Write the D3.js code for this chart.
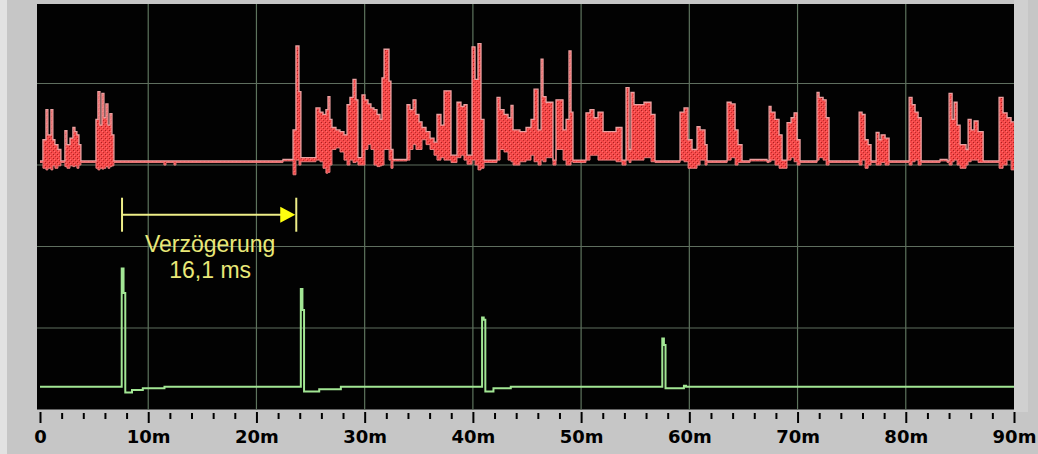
<!DOCTYPE html>
<html><head><meta charset="utf-8">
<script src="https://cdn.jsdelivr.net/npm/d3@7"></script>
<style>html,body{margin:0;padding:0;background:#c6c6c6;overflow:hidden}</style>
</head><body>
<svg id="c" width="1038" height="454"></svg>
<script>
// ---- data (time in ms, amplitude in divisions) ----
const majorTicks = [0,10,20,30,40,50,60,70,80,90];
const minorTicks = [2,4,6,8,12,14,16,18,22,24,26,28,32,34,36,38,42,44,46,48,52,54,56,58,62,64,66,68,72,74,76,78,82,84,86,88];
const tickLabels = ["0","10m","20m","30m","40m","50m","60m","70m","80m","90m"];
const gridY = [1,2,3,4];
const redOffset = 3.05;   // channel 1 zero level (div)
const greenOffset = 0.28; // channel 2 zero level (div)
// channel 1: [t, upper, lower]
const redTrace = [
[0.00,0.00,-0.02],[0.27,0.26,-0.09],[0.55,0.63,-0.11],[0.73,0.32,-0.09],[1.01,0.63,-0.11],[1.19,0.26,-0.06],[1.38,0.20,-0.09],[1.66,0.14,-0.06],[1.93,0.00,-0.02],
[2.30,0.37,-0.07],[2.49,0.20,-0.09],[2.77,0.28,-0.06],[3.04,0.41,-0.07],[3.23,0.36,-0.06],[3.41,0.32,-0.09],[3.60,0.20,-0.05],[3.78,0.00,-0.02],
[5.17,0.51,-0.09],[5.35,0.85,-0.11],[5.54,0.44,-0.09],[5.72,0.83,-0.10],[5.91,0.53,-0.09],[6.09,0.70,-0.07],[6.28,0.44,-0.09],[6.46,0.58,-0.07],[6.65,0.32,-0.06],[6.83,0.00,-0.02],
[11.45,0.00,-0.05],[11.64,0.00,-0.02],[12.38,0.00,-0.05],[12.56,0.00,-0.02],[22.45,0.02,0.00],
[23.38,0.38,-0.17],[23.65,1.41,0.01],[23.93,0.85,-0.05],[24.11,0.04,-0.01],
[25.50,0.65,0.01],[25.87,0.60,-0.01],[26.15,0.57,-0.09],[26.42,0.63,-0.15],[26.61,0.79,-0.14],[26.79,0.51,-0.05],[26.98,0.41,0.14],[27.35,0.38,0.16],[27.72,0.36,0.11],[28.09,0.32,0.01],
[28.37,0.69,-0.05],[28.64,0.78,0.01],[28.92,1.00,-0.02],[29.20,0.75,-0.01],[29.38,0.04,-0.05],[29.75,0.81,-0.05],[30.03,0.75,0.14],[30.31,0.70,0.20],[30.58,0.65,0.14],[30.86,0.63,-0.05],
[31.14,0.57,-0.07],[31.42,0.51,-0.06],[31.60,1.02,-0.05],[31.79,1.37,0.14],[32.25,0.98,0.01],[32.43,0.14,-0.09],[32.62,0.02,0.00],
[33.91,0.69,0.01],[34.19,0.63,0.14],[34.47,0.75,0.20],[34.74,0.57,0.14],[35.02,0.48,0.14],[35.30,0.41,0.26],[35.67,0.36,0.20],[36.04,0.28,0.14],[36.41,0.23,0.07],[36.68,0.57,0.01],
[37.05,0.44,0.04],[37.33,0.86,0.01],[37.98,0.07,-0.02],[38.53,0.72,0.04],[38.90,0.67,0.07],[39.18,0.69,0.01],[39.46,0.07,-0.04],[39.92,1.40,0.01],[40.20,1.00,-0.05],[40.47,1.44,-0.11],
[40.75,0.51,-0.09],[41.03,0.01,-0.02],[42.23,0.78,0.01],[42.51,0.63,0.14],[42.88,0.57,0.11],[43.25,0.53,0.01],[43.52,0.68,-0.01],[43.71,0.38,-0.05],[44.35,0.36,-0.01],[44.91,0.41,0.01],
[45.37,0.51,0.07],[45.65,0.88,-0.01],[46.02,0.38,-0.05],[46.30,1.25,0.01],[46.48,0.79,-0.01],[46.76,0.72,0.04],[47.40,0.01,-0.05],[47.68,0.75,0.14],[48.33,0.38,0.01],[48.61,0.51,-0.05],
[48.88,1.35,-0.05],[49.07,0.60,-0.01],[49.25,0.01,-0.02],[50.45,0.59,0.01],[50.82,0.63,0.07],[51.19,0.53,0.07],[51.56,0.60,0.01],[52.03,0.36,0.01],[53.23,0.41,-0.01],[53.78,0.01,-0.05],
[54.15,0.90,0.01],[54.43,0.14,-0.02],[54.61,0.84,0.01],[54.89,0.69,0.01],[55.81,0.72,0.04],[56.46,0.57,-0.01],[56.83,0.00,-0.02],
[59.14,0.60,0.01],[59.51,0.65,-0.01],[59.88,0.26,-0.09],[60.25,0.14,-0.09],[60.71,0.42,-0.05],[60.99,0.38,0.01],[61.45,0.20,-0.05],[61.64,0.00,-0.02],
[63.49,0.72,0.01],[63.86,0.70,0.04],[64.23,0.38,-0.05],[64.50,0.20,-0.02],[64.87,0.00,-0.02],[65.61,0.02,0.00],[67.18,0.00,-0.02],
[67.37,0.67,-0.01],[67.55,0.60,0.01],[67.92,0.51,-0.05],[68.29,0.32,-0.09],[68.57,0.01,-0.09],[69.03,0.47,0.01],[69.40,0.53,0.04],[69.68,0.59,-0.01],[69.96,0.26,-0.05],[70.23,0.00,-0.02],
[71.80,0.84,0.01],[71.99,0.78,0.04],[72.36,0.75,0.01],[72.64,0.53,-0.05],[72.91,0.00,-0.02],
[75.69,0.60,-0.05],[75.96,0.57,0.01],[76.24,0.26,-0.09],[76.52,0.20,-0.05],[76.79,0.00,-0.02],[77.26,0.35,-0.05],[77.53,0.26,-0.05],[77.72,0.32,-0.02],[78.09,0.28,-0.05],[78.46,0.00,-0.02],
[80.31,0.78,-0.05],[80.58,0.69,-0.01],[80.86,0.60,0.01],[81.14,0.53,-0.05],[81.42,0.00,-0.02],[83.17,0.02,0.00],[83.82,0.00,-0.02],
[84.00,0.83,-0.05],[84.28,0.51,-0.01],[84.47,0.72,0.01],[84.74,0.44,-0.05],[85.02,0.20,-0.09],[85.57,0.14,-0.05],[85.76,0.51,-0.01],[86.04,0.38,0.01],[86.31,0.49,0.01],[86.68,0.36,-0.02],[87.15,0.00,-0.02],
[88.62,0.78,-0.09],[88.99,0.59,-0.05],[89.36,0.53,0.01],[89.73,0.48,-0.11],[90.00,0.48,-0.11]
];
// channel 2: [t, value]
const greenTrace = [
[0,0],[7.55,1.45],[7.72,1.15],[7.88,-0.07],[8.5,-0.04],[9.5,-0.02],[11.5,0],
[24.1,1.20],[24.25,0.94],[24.4,-0.06],[25.8,-0.03],[27.8,0],
[40.85,0.85],[41.0,0.82],[41.15,-0.06],[41.9,-0.02],[43.5,0],
[57.5,0.59],[57.65,0.51],[57.8,-0.02],[59.5,0.01],[59.7,0],[90,0]
];
const delayStart = 7.58, delayEnd = 23.68;
const annotation = ["Verzögerung","16,1 ms"];

// ---- drawing ----
const svg = d3.select("#c");
const x = d3.scaleLinear().domain([0,90]).range([40,1014]);
const y = d3.scaleLinear().domain([0,5]).range([409.5,2]);

const defs = svg.append("defs");
const pat = defs.append("pattern").attr("id","noise").attr("patternUnits","userSpaceOnUse")
  .attr("width",4).attr("height",4);
pat.append("rect").attr("width",4).attr("height",4).attr("fill","#f44848");
pat.append("rect").attr("x",1).attr("y",2).attr("width",1).attr("height",1).attr("fill","#a82020");
pat.append("rect").attr("x",3).attr("y",0).attr("width",1).attr("height",1).attr("fill","#c02a2a");
pat.append("rect").attr("x",2).attr("y",3).attr("width",1).attr("height",1).attr("fill","#ff7070");
pat.append("rect").attr("x",0).attr("y",1).attr("width",1).attr("height",1).attr("fill","#ff6060");

svg.append("rect").attr("x",0).attr("y",0).attr("width",1038).attr("height",454).attr("fill","#c6c6c6");
svg.append("rect").attr("x",0).attr("y",0).attr("width",7).attr("height",454).attr("fill","#e2e2e2");
svg.append("rect").attr("x",1014).attr("y",0).attr("width",14).attr("height",412).attr("fill","#d0d0d0");
svg.append("rect").attr("x",37).attr("y",4).attr("width",977).attr("height",405.5).attr("fill","#020202");

const grid = svg.append("g").attr("stroke","#5d735d").attr("stroke-width",1.2);
grid.selectAll(".v").data(majorTicks.slice(1,-1)).join("line")
  .attr("x1",d=>x(d)).attr("x2",d=>x(d)).attr("y1",4).attr("y2",409.5);
grid.selectAll(".h").data(gridY).join("line").attr("stroke","#5f6e5f")
  .attr("x1",37).attr("x2",1014).attr("y1",d=>y(d)).attr("y2",d=>y(d));

const plot = svg.append("g");
plot.append("path").datum(redTrace)
  .attr("fill","url(#noise)")
  .attr("d", d3.area().curve(d3.curveStepAfter).x(d=>x(d[0]))
     .y0(d=>y(redOffset+d[2])).y1(d=>y(redOffset+d[1])));
plot.append("path").datum(redTrace)
  .attr("fill","none").attr("stroke","#eba0a0").attr("stroke-width",1.3)
  .attr("d", d3.line().curve(d3.curveStepAfter).x(d=>x(d[0])).y(d=>y(redOffset+d[1])));
plot.append("path").datum(redTrace)
  .attr("fill","none").attr("stroke","#e77c7c").attr("stroke-width",1)
  .attr("d", d3.line().curve(d3.curveStepAfter).x(d=>x(d[0])).y(d=>y(redOffset+d[2])));

plot.append("path").datum(greenTrace)
  .attr("fill","none").attr("stroke","#a2e694").attr("stroke-width",2)
  .attr("d", d3.line().curve(d3.curveStepAfter).x(d=>x(d[0])).y(d=>y(greenOffset+d[1])));

// annotation
const ann = svg.append("g");
const ay = y(2.39);
ann.append("line").attr("x1",x(delayStart)).attr("x2",x(delayStart)).attr("y1",ay-17).attr("y2",ay+17).attr("stroke","#eeee88").attr("stroke-width",2);
ann.append("line").attr("x1",x(delayEnd)).attr("x2",x(delayEnd)).attr("y1",ay-17).attr("y2",ay+17).attr("stroke","#eeee88").attr("stroke-width",2);
ann.append("line").attr("x1",x(delayStart)).attr("x2",x(delayEnd)-14).attr("y1",ay).attr("y2",ay).attr("stroke","#eeee88").attr("stroke-width",2);
ann.append("path").attr("fill","#ffff10")
  .attr("d",`M${x(delayEnd)-1},${ay} L${x(delayEnd)-16},${ay-8} L${x(delayEnd)-16},${ay+8} Z`);
const cx = x((delayStart+delayEnd)/2) + 1;
ann.selectAll("text").data(annotation).join("text")
  .attr("x",cx).attr("y",(d,i)=> y(1.93) + i*26)
  .attr("text-anchor","middle").attr("fill","#e9e878")
  .attr("font-family","Liberation Sans, Arial, sans-serif").attr("font-size",23)
  .text(d=>d);

// axis
const axMajor = d3.axisBottom(x).tickValues(majorTicks).tickSize(11)
  .tickFormat((d,i)=>tickLabels[i]);
const gA = svg.append("g").attr("transform","translate(0,412)").call(axMajor);
gA.select(".domain").remove();
gA.selectAll(".tick line").attr("stroke","#000").attr("stroke-width",2);
gA.selectAll(".tick text").attr("y",31).attr("dy",0).attr("fill","#000")
  .attr("font-family","DejaVu Sans, sans-serif").attr("font-weight","bold").attr("font-size",18);
const axMinor = d3.axisBottom(x).tickValues(minorTicks).tickSize(6).tickFormat("");
const gB = svg.append("g").attr("transform","translate(0,413)").call(axMinor);
gB.select(".domain").remove();
gB.selectAll(".tick line").attr("stroke","#000").attr("stroke-width",2);
</script>
</body></html>
